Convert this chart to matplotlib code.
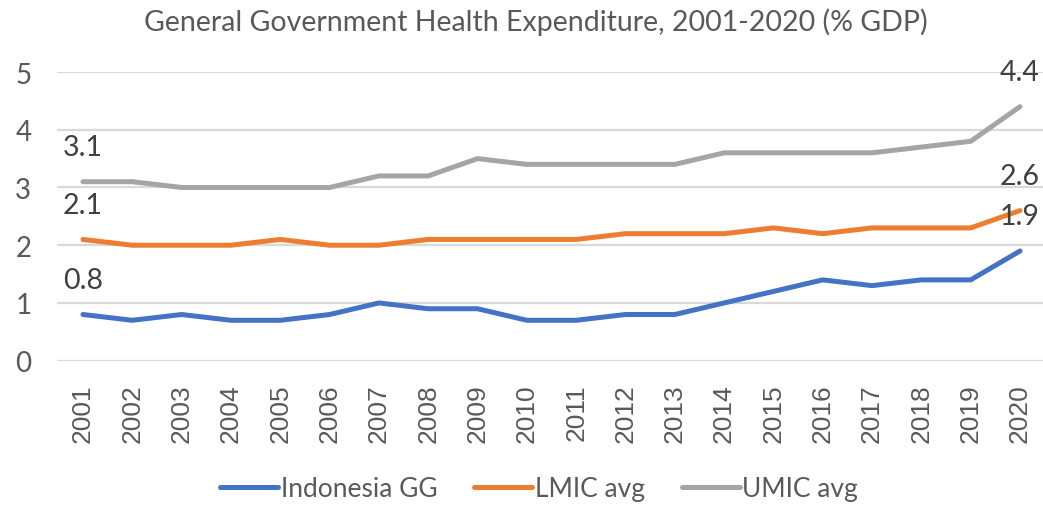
import matplotlib
matplotlib.use("Agg")
import matplotlib.pyplot as plt

years = [str(y) for y in range(2001, 2021)]
indonesia_gg = [0.8, 0.7, 0.8, 0.7, 0.7, 0.8, 1.0, 0.9, 0.9, 0.7,
                0.7, 0.8, 0.8, 1.0, 1.2, 1.4, 1.3, 1.4, 1.4, 1.9]
lmic_avg = [2.1, 2.0, 2.0, 2.0, 2.1, 2.0, 2.0, 2.1, 2.1, 2.1,
            2.1, 2.2, 2.2, 2.2, 2.3, 2.2, 2.3, 2.3, 2.3, 2.6]
umic_avg = [3.1, 3.1, 3.0, 3.0, 3.0, 3.0, 3.2, 3.2, 3.5, 3.4,
            3.4, 3.4, 3.4, 3.6, 3.6, 3.6, 3.6, 3.7, 3.8, 4.4]
series_names = ["Indonesia GG", "LMIC avg", "UMIC avg"]
y_ticks = [0, 1, 2, 3, 4, 5]
title = "General Government Health Expenditure, 2001-2020 (% GDP)"

colors = ["#4472C4", "#ED7D31", "#A5A5A5"]
txt = "#595959"
main_font = ["Lato", "DejaVu Sans"]

W, H = 1043, 506
fig = plt.figure(figsize=(W / 100, H / 100), dpi=100)
left, right = 57 / W, 1043 / W
bottom, top = 1 - 361.7 / H, 1 - 73 / H
ax = fig.add_axes([left, bottom, right - left, top - bottom])

x = list(range(len(years)))
lines = []
for vals, c, name in zip([indonesia_gg, lmic_avg, umic_avg], colors, series_names):
    ln, = ax.plot(x, vals, color=c, lw=3.6, solid_capstyle="round",
                  solid_joinstyle="round", label=name, zorder=3)
    lines.append(ln)
    for i in (0, len(vals) - 1):
        ax.annotate(f"{vals[i]:.1f}", (x[i], vals[i]), xytext=(0, 25),
                    textcoords="offset points", ha="center", va="center",
                    fontsize=20.5, color="#404040", family=main_font, zorder=4)

ax.set_xlim(-0.527, 19.466)
ax.set_ylim(0, 5)
ax.set_yticks(y_ticks)
ax.set_yticklabels([str(t) for t in y_ticks], family=main_font, fontsize=20, color=txt)
ax.set_xticks(x)
ax.set_xticklabels(years, rotation=90, family=["Liberation Sans", "DejaVu Sans"],
                   fontsize=19, color=txt)
ax.tick_params(axis="x", length=0, pad=16)
for t in ax.get_yticklabels():
    t.set_horizontalalignment("left")
ax.tick_params(axis="y", length=0, pad=30)
ax.grid(axis="y", color="#D9D9D9", lw=1.6, zorder=0)
for s in ax.spines.values():
    s.set_visible(False)

fig.text(536 / W, 1 - 22 / H, title, ha="center", va="center",
         fontsize=20.5, color=txt, family=main_font)

leg = fig.legend(handles=lines, labels=series_names, loc="center",
                 bbox_to_anchor=(539 / W, 1 - 490 / H), ncol=3, frameon=False,
                 prop={"family": main_font, "size": 19}, handlelength=2.2,
                 handletextpad=0.1, columnspacing=1.4, labelcolor=txt)

fig.savefig("out.png", dpi=100)
